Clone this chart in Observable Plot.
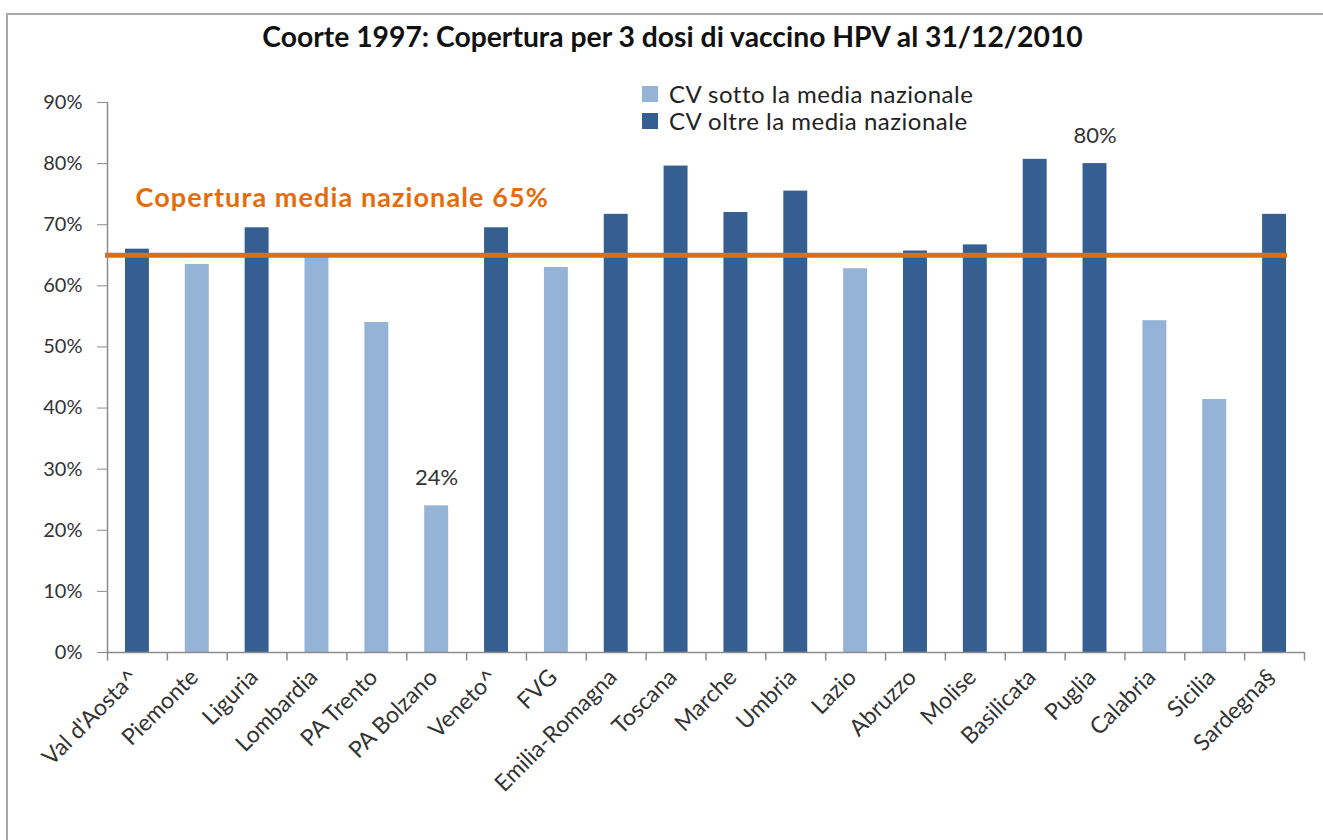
<!DOCTYPE html>
<html>
<head>
<meta charset="utf-8">
<script src="https://cdn.jsdelivr.net/npm/d3@7"></script>
<script src="https://cdn.jsdelivr.net/npm/@observablehq/plot@0.6"></script>
<style>
  body { margin: 0; background: #fff; font-family: Lato, "Open Sans", sans-serif; }
  #wrap { position: relative; width: 1323px; height: 840px; overflow: hidden; background: #fff; }
  #frame { position: absolute; left: 6px; top: 13px; width: 1400px; height: 900px;
           border-top: 2px solid #a9a9a9; border-left: 2px solid #a9a9a9; }
  #chart { position: absolute; left: 0; top: 0; }
  #title { position: absolute; top: 19px; left: 11px; width: 1323px; text-align: center;
           font-weight: bold; font-size: 28.3px; color: #111; white-space: nowrap; }
  .leg { position: absolute; left: 642px; font-size: 24px; letter-spacing: 0.5px; color: #222; white-space: nowrap;
         display: flex; align-items: center; }
  .sw { width: 16px; height: 16px; margin-right: 11px; display: inline-block; }
</style>
</head>
<body>
<div id="wrap">
  <div id="frame"></div>
  <div id="chart"></div>
  <div id="title"></div>
  <div id="legend"></div>
</div>
<script>
const titleText = "Coorte 1997: Copertura per 3 dosi di vaccino HPV al 31/12/2010";
const regions = ["Val d'Aosta^","Piemonte","Liguria","Lombardia","PA Trento","PA Bolzano","Veneto^","FVG","Emilia-Romagna","Toscana","Marche","Umbria","Lazio","Abruzzo","Molise","Basilicata","Puglia","Calabria","Sicilia","Sardegna§"];
const coverage = [0.660,0.635,0.695,0.648,0.540,0.240,0.695,0.630,0.717,0.796,0.720,0.755,0.628,0.657,0.667,0.807,0.800,0.543,0.414,0.717];
const series = ["CV sotto la media nazionale","CV oltre la media nazionale"];
const seriesOf = [1,0,1,0,0,0,1,0,1,1,1,1,0,1,1,1,1,0,0,1];
const seriesColors = ["#95b3d7","#365f91"];
const nationalMean = 0.65;
const meanLabel = "Copertura media nazionale 65%";
const yTicks = [0,0.1,0.2,0.3,0.4,0.5,0.6,0.7,0.8,0.9];
const annotatedRegions = ["PA Bolzano","Puglia"];

const data = regions.map((r, i) => ({region: r, value: coverage[i], series: series[seriesOf[i]]}));
const pct = d3.format(".0%");

const W = 1323, H = 840, ML = 107, MR = 19, MT = 102, MB = 188;
const step = (W - ML - MR) / regions.length;

document.getElementById("title").textContent = titleText;
const legend = document.getElementById("legend");
series.forEach((s, i) => {
  const row = document.createElement("div");
  row.className = "leg";
  row.style.top = (79 + i * 27) + "px";
  row.innerHTML = `<span class="sw" style="background:${seriesColors[i]}"></span><span></span>`;
  row.lastChild.textContent = s;
  legend.appendChild(row);
});

const axisColor = "#8c8c8c";
const plot = Plot.plot({
  width: W, height: H,
  marginLeft: ML, marginRight: MR, marginTop: MT, marginBottom: MB,
  style: { fontFamily: "Lato, 'Open Sans', sans-serif", fontSize: "20px", color: "#333", background: "transparent" },
  x: { domain: regions, paddingInner: 0.6, paddingOuter: 0.3, round: false },
  y: { domain: [0, 0.9] },
  color: { domain: series, range: seriesColors },
  marks: [
    Plot.barY(data, { x: "region", y: "value", fill: "series" }),
    Plot.ruleY([nationalMean], { stroke: "#e46c0a", strokeWidth: 5, insetRight: 17, insetLeft: -2 }),
    Plot.text([meanLabel], { y: () => nationalMean, frameAnchor: "left", textAnchor: "start",
      dx: 28, dy: -57, fill: "#e46c0a", fontWeight: "bold", fontSize: 27, className: "mean-label" }),
    Plot.text(data.filter(d => annotatedRegions.includes(d.region)), {
      x: "region", y: "value", text: d => pct(d.value), dy: -28, fontSize: 22, fill: "#333" }),
    // axis lines
    Plot.ruleY([0], { stroke: axisColor, strokeWidth: 1.5 }),
    Plot.ruleX([regions[0]], { dx: -step / 2, stroke: axisColor, strokeWidth: 1.5 }),
    // category separator ticks below the axis
    Plot.ruleX(regions, { x: d => d, dx: -step / 2, y1: 0, y2: -0.014, stroke: axisColor, strokeWidth: 1.5 }),
    Plot.ruleX([regions[regions.length - 1]], { dx: step / 2, y1: 0, y2: -0.014, stroke: axisColor, strokeWidth: 1.5 }),
    Plot.axisY({ ticks: yTicks, tickFormat: pct, tickSize: 10, tickPadding: 15, stroke: axisColor, fill: "#333", fontSize: 20, label: null }),
    Plot.axisX({ tickRotate: -45, tickSize: 0, tickPadding: 21, dx: -3, fill: "#333", fontSize: 23, label: null })
  ]
});
d3.select(plot).selectAll("text").filter(function() { return this.textContent === meanLabel; })
  .style("letter-spacing", "1.1px");
document.getElementById("chart").appendChild(plot);
</script>
</body>
</html>
